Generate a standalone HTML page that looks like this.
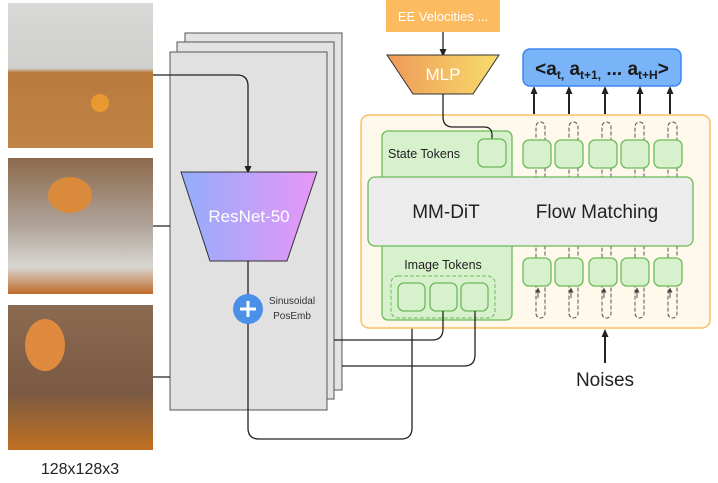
<!DOCTYPE html>
<html><head><style>
body{margin:0;background:#fff;width:718px;height:478px;overflow:hidden;font-family:"Liberation Sans",sans-serif;}
</style></head><body>
<svg width="718" height="478" viewBox="0 0 718 478" xmlns="http://www.w3.org/2000/svg" font-family="Liberation Sans, sans-serif">
<defs>
<linearGradient id="rg" x1="0" x2="1"><stop offset="0" stop-color="#93adfb"/><stop offset="1" stop-color="#e896f8"/></linearGradient>
<linearGradient id="mg" x1="0" x2="1"><stop offset="0" stop-color="#ee9a58"/><stop offset="1" stop-color="#f8dc6c"/></linearGradient>
<linearGradient id="p1" x1="0" y1="0" x2="0" y2="1"><stop offset="0" stop-color="#d8d8d6"/><stop offset="0.45" stop-color="#cfcfcc"/><stop offset="0.48" stop-color="#b97a3e"/><stop offset="1" stop-color="#c08446"/></linearGradient>
<linearGradient id="p2" x1="0" y1="0" x2="0" y2="1"><stop offset="0" stop-color="#8c6a4c"/><stop offset="0.5" stop-color="#b0a49a"/><stop offset="0.8" stop-color="#d8d6d2"/><stop offset="1" stop-color="#c06a2a"/></linearGradient>
<linearGradient id="p3" x1="0" y1="0" x2="0" y2="1"><stop offset="0" stop-color="#8a6a50"/><stop offset="0.6" stop-color="#7a5a44"/><stop offset="1" stop-color="#c07020"/></linearGradient>
<marker id="ah" markerUnits="userSpaceOnUse" markerWidth="8" markerHeight="8" refX="4" refY="4" orient="auto"><path d="M0,0.5L8,4L0,7.5z" fill="#222"/></marker>
<marker id="as" markerUnits="userSpaceOnUse" markerWidth="5" markerHeight="5" refX="2.5" refY="2.5" orient="auto"><path d="M0,0L5,2.5L0,5z" fill="#444"/></marker>
</defs>
<rect x="8" y="3" width="145" height="145" fill="url(#p1)"/>
<circle cx="100" cy="103" r="9" fill="#e89a30"/>
<rect x="8" y="158" width="145" height="136" fill="url(#p2)"/>
<ellipse cx="70" cy="195" rx="22" ry="18" fill="#d98a3a"/>
<rect x="8" y="305" width="145" height="145" fill="url(#p3)"/>
<ellipse cx="45" cy="345" rx="20" ry="26" fill="#e08a40"/>
<text x="80" y="474" font-size="16" text-anchor="middle" fill="#222">128x128x3</text>
<rect x="185" y="33" width="157" height="357" fill="#e3e3e3" stroke="#555" stroke-width="1"/>
<rect x="177" y="42" width="157" height="357" fill="#e3e3e3" stroke="#555" stroke-width="1"/>
<rect x="170" y="52" width="157" height="358" fill="#e1e1e1" stroke="#555" stroke-width="1"/>
<path d="M153,75 H237 Q248,75 248,86 V170" fill="none" stroke="#222" stroke-width="1.3" marker-end="url(#ah)"/>
<line x1="153" y1="226" x2="170" y2="226" stroke="#222" stroke-width="1.3"/>
<line x1="153" y1="377" x2="170" y2="377" stroke="#222" stroke-width="1.3"/>
<polygon points="181,172 317,172 287,261 210,261" fill="url(#rg)" stroke="#333" stroke-width="1"/>
<text x="249" y="222" font-size="17" fill="#fff" text-anchor="middle">ResNet-50</text>
<line x1="248" y1="261" x2="248" y2="294" stroke="#222" stroke-width="1.3"/>
<path d="M248,324 V428 Q248,439 259,439 H401 Q412,439 412,428 V310" fill="none" stroke="#222" stroke-width="1.3"/>
<circle cx="248" cy="309" r="15" fill="#4a90e8"/>
<path d="M240,309H256M248,301V317" stroke="#fff" stroke-width="3"/>
<text x="292" y="304" font-size="10" fill="#333" text-anchor="middle">Sinusoidal</text>
<text x="292" y="319" font-size="10" fill="#333" text-anchor="middle">PosEmb</text>
<rect x="386" y="0" width="114" height="32" fill="#fbbb5e"/>
<text x="443" y="21" font-size="13" fill="#fff" text-anchor="middle">EE Velocities ...</text>
<line x1="443" y1="32" x2="443" y2="53" stroke="#222" stroke-width="1.3" marker-end="url(#ah)"/>
<polygon points="387,55 499,55 473,94 413,94" fill="url(#mg)" stroke="#333" stroke-width="1"/>
<text x="443" y="80" font-size="17" fill="#fff" text-anchor="middle">MLP</text>
<rect x="361" y="115" width="349" height="213" rx="8" fill="#fff9ec" stroke="#fbbf63" stroke-width="1.5"/>
<rect x="382" y="131" width="130" height="189" rx="6" fill="#d7f1cc" stroke="#6cba5a" stroke-width="1.3"/>
<path d="M443,94 V117 Q443,127 453,127 H484 Q492,127 492,135 V140" fill="none" stroke="#222" stroke-width="1.3"/>
<text x="388" y="158" font-size="12.5" fill="#222">State Tokens</text>
<rect x="478" y="139" width="28" height="28" rx="6" fill="#d7f1cc" stroke="#6cba5a" stroke-width="1.3"/>
<text x="443" y="269" font-size="12.5" fill="#222" text-anchor="middle">Image Tokens</text>
<rect x="391" y="276" width="104" height="42" rx="7" fill="none" stroke="#6cba5a" stroke-width="1" stroke-dasharray="4,2"/>
<rect x="398" y="283" width="27" height="28" rx="6" fill="#d7f1cc" stroke="#6cba5a" stroke-width="1.3"/>
<rect x="430" y="283" width="27" height="28" rx="6" fill="#d7f1cc" stroke="#6cba5a" stroke-width="1.3"/>
<rect x="461" y="283" width="27" height="28" rx="6" fill="#d7f1cc" stroke="#6cba5a" stroke-width="1.3"/>
<path d="M334,340 H432 Q443,340 443,329 V311" fill="none" stroke="#222" stroke-width="1.3"/>
<path d="M342,366 H464 Q475,366 475,355 V311" fill="none" stroke="#222" stroke-width="1.3"/>
<g fill="none" stroke="#555" stroke-width="1" stroke-dasharray="4,2">
<rect x="536" y="122" width="9" height="196" rx="4.5"/>
<rect x="569" y="122" width="9" height="196" rx="4.5"/>
<rect x="602" y="122" width="9" height="196" rx="4.5"/>
<rect x="635" y="122" width="9" height="196" rx="4.5"/>
<rect x="668" y="122" width="9" height="196" rx="4.5"/>
</g>
<g stroke="#555" stroke-width="1">
<line x1="538" y1="298" x2="538" y2="290" marker-end="url(#as)"/>
<line x1="571" y1="298" x2="571" y2="290" marker-end="url(#as)"/>
<line x1="604" y1="298" x2="604" y2="290" marker-end="url(#as)"/>
<line x1="637" y1="298" x2="637" y2="290" marker-end="url(#as)"/>
<line x1="670" y1="298" x2="670" y2="290" marker-end="url(#as)"/>
</g>
<g fill="#d7f1cc" stroke="#6cba5a" stroke-width="1.3">
<rect x="523" y="140" width="28" height="28" rx="6"/><rect x="555" y="140" width="28" height="28" rx="6"/><rect x="589" y="140" width="28" height="28" rx="6"/><rect x="621" y="140" width="28" height="28" rx="6"/><rect x="654" y="140" width="28" height="28" rx="6"/>
<rect x="523" y="258" width="28" height="28" rx="6"/><rect x="555" y="258" width="28" height="28" rx="6"/><rect x="589" y="258" width="28" height="28" rx="6"/><rect x="621" y="258" width="28" height="28" rx="6"/><rect x="654" y="258" width="28" height="28" rx="6"/>
</g>
<rect x="368" y="177" width="325" height="69" rx="7" fill="#ececec" stroke="#6cba5a" stroke-width="1.3"/>
<text x="446" y="218" font-size="19" fill="#222" text-anchor="middle">MM-DiT</text>
<text x="597" y="218" font-size="19" fill="#222" text-anchor="middle">Flow Matching</text>
<g stroke="#222" stroke-width="2">
<line x1="534" y1="114" x2="534" y2="90" marker-end="url(#ah)"/>
<line x1="569" y1="114" x2="569" y2="90" marker-end="url(#ah)"/>
<line x1="605" y1="114" x2="605" y2="90" marker-end="url(#ah)"/>
<line x1="640" y1="114" x2="640" y2="90" marker-end="url(#ah)"/>
<line x1="670" y1="114" x2="670" y2="90" marker-end="url(#ah)"/>
</g>
<rect x="523" y="49" width="158" height="37" rx="7" fill="#7ab4f8" stroke="#3c86ee" stroke-width="1.5"/>
<text x="602" y="75" font-size="19" font-weight="bold" fill="#1a1a1a" text-anchor="middle">&lt;a<tspan font-size="12" dy="4">t,</tspan><tspan dy="-4"> a</tspan><tspan font-size="12" dy="4">t+1,</tspan><tspan dy="-4"> ... a</tspan><tspan font-size="12" dy="4">t+H</tspan><tspan dy="-4">&gt;</tspan></text>
<line x1="605" y1="363" x2="605" y2="333" stroke="#222" stroke-width="2" marker-end="url(#ah)"/>
<text x="605" y="386" font-size="19" fill="#222" text-anchor="middle">Noises</text>
</svg>
</body></html>
